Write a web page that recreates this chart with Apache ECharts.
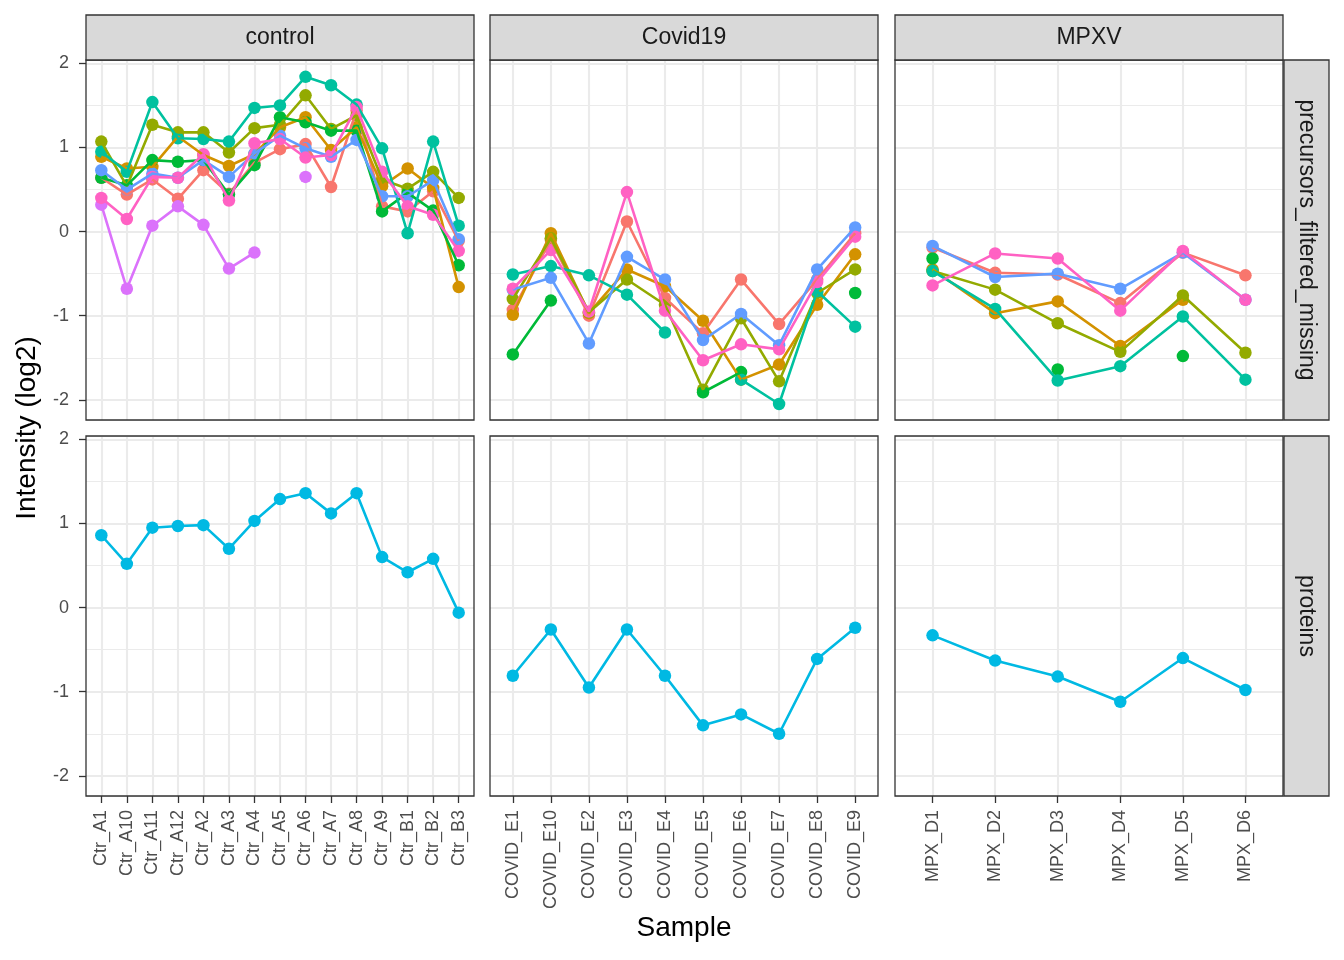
<!DOCTYPE html>
<html>
<head>
<meta charset="utf-8">
<script src="https://cdn.jsdelivr.net/npm/echarts@6/dist/echarts.min.js"></script>
<style>
  html, body { margin: 0; padding: 0; background: #fff; }
  #chart { width: 1344px; height: 960px; }
</style>
</head>
<body>
<div id="chart"></div>
<script>
// samples per condition (x categories)
const ctrSamples = ['Ctr_A1', 'Ctr_A10', 'Ctr_A11', 'Ctr_A12', 'Ctr_A2', 'Ctr_A3', 'Ctr_A4', 'Ctr_A5',
  'Ctr_A6', 'Ctr_A7', 'Ctr_A8', 'Ctr_A9', 'Ctr_B1', 'Ctr_B2', 'Ctr_B3'];
const covidSamples = ['COVID_E1', 'COVID_E10', 'COVID_E2', 'COVID_E3', 'COVID_E4', 'COVID_E5',
  'COVID_E6', 'COVID_E7', 'COVID_E8', 'COVID_E9'];
const mpxSamples = ['MPX_D1', 'MPX_D2', 'MPX_D3', 'MPX_D4', 'MPX_D5', 'MPX_D6'];

const conditions = ['control', 'Covid19', 'MPXV'];
const levels = ['precursors_filtered_missing', 'proteins'];
const yTicks = [-2, -1, 0, 1, 2];

// one colour per feature (ggplot hue palette), proteins use the 6th hue
const precursorColors = ['#F8766D', '#D39200', '#93AA00', '#00BA38', '#00C19F', '#619CFF', '#DB72FB', '#FF61C3'];
const proteinColor = '#00B9E3';

// precursor intensities, one row per precursor (same order as the colours)
const ctrPrecursors = [
  [0.64, 0.44, 0.62, 0.39, 0.73, 0.45, 0.82, 0.98, 1.04, 0.53, 1.44, 0.30, 0.24, 0.48, -0.11],
  [0.89, 0.75, 0.77, 1.13, 0.91, 0.78, 0.92, 1.24, 1.36, 0.97, 1.24, 0.54, 0.75, 0.52, -0.66],
  [1.07, 0.54, 1.27, 1.18, 1.18, 0.94, 1.23, 1.27, 1.62, 1.22, 1.38, 0.62, 0.51, 0.71, 0.40],
  [0.64, 0.55, 0.85, 0.83, 0.85, 0.44, 0.79, 1.36, 1.30, 1.20, 1.20, 0.24, 0.46, 0.25, -0.40],
  [0.95, 0.71, 1.54, 1.11, 1.10, 1.07, 1.47, 1.50, 1.84, 1.74, 1.51, 0.99, -0.02, 1.07, 0.07],
  [0.73, 0.50, 0.69, 0.64, 0.85, 0.65, 0.93, 1.14, 0.99, 0.89, 1.09, 0.42, 0.42, 0.61, -0.09],
  [0.32, -0.68, 0.07, 0.30, 0.08, -0.44, -0.25, null, 0.65, null, null, null, null, null, null],
  [0.40, 0.15, 0.65, 0.64, 0.92, 0.37, 1.05, 1.10, 0.88, 0.91, 1.48, 0.71, 0.30, 0.20, -0.23]
];
const covidPrecursors = [
  [-0.93, -0.10, -1.00, 0.12, -0.79, -1.21, -0.57, -1.10, -0.57, -0.02],
  [-0.99, -0.02, -0.97, -0.45, -0.65, -1.06, -1.76, -1.58, -0.87, -0.27],
  [-0.80, -0.08, -0.96, -0.57, -0.87, -1.88, -1.03, -1.78, -0.73, -0.45],
  [-1.46, -0.82, null, null, null, -1.91, -1.67, null, null, -0.73],
  [-0.51, -0.41, -0.52, -0.75, -1.20, null, -1.76, -2.05, -0.71, -1.13],
  [-0.69, -0.55, -1.33, -0.30, -0.57, -1.29, -0.98, -1.35, -0.45, 0.05],
  [null, null, null, null, null, null, null, null, null, null],
  [-0.68, -0.22, -0.95, 0.47, -0.94, -1.53, -1.34, -1.40, -0.60, -0.06]
];
const mpxPrecursors = [
  [-0.19, -0.49, -0.51, -0.85, -0.25, -0.52],
  [-0.45, -0.97, -0.83, -1.36, -0.81, null],
  [-0.47, -0.69, -1.09, -1.43, -0.76, -1.44],
  [-0.32, null, -1.64, null, -1.48, null],
  [-0.47, -0.92, -1.77, -1.60, -1.01, -1.76],
  [-0.17, -0.54, -0.50, -0.68, -0.25, -0.81],
  [null, null, null, null, null, null],
  [-0.64, -0.26, -0.32, -0.94, -0.23, -0.81]
];

// protein intensities
const ctrProteins = [0.86, 0.52, 0.95, 0.97, 0.98, 0.70, 1.03, 1.29, 1.36, 1.12, 1.36, 0.60, 0.42, 0.58, -0.06];
const covidProteins = [-0.81, -0.26, -0.95, -0.26, -0.81, -1.40, -1.27, -1.50, -0.61, -0.24];
const mpxProteins = [-0.33, -0.63, -0.82, -1.12, -0.60, -0.98];

const FONT = 'Liberation Sans, Arial, Helvetica, sans-serif';
const colLeft = [86, 490, 895];
const rowTop = [60, 436];
const panelW = 388, panelH = 360;
const yMin = -2.24, yMax = 2.04;

const sampleSets = [ctrSamples, covidSamples, mpxSamples];
const precursorSets = [ctrPrecursors, covidPrecursors, mpxPrecursors];
const proteinSets = [ctrProteins, covidProteins, mpxProteins];

const grid = [], xAxis = [], yAxis = [], series = [], graphic = [];

for (let r = 0; r < 2; r++) {
  for (let c = 0; c < 3; c++) {
    const g = r * 3 + c;
    const cats = sampleSets[c];
    const n = cats.length;
    const idx = cats.map((_, i) => i);

    grid.push({ left: colLeft[c], top: rowTop[r], width: panelW, height: panelH });

    xAxis.push({
      gridIndex: g, type: 'value', min: -0.6, max: n - 0.4, splitNumber: n,
      axisLine: { show: false, onZero: false },
      axisTick: { show: r === 1, customValues: idx, length: 7, lineStyle: { color: '#333', width: 1.3 } },
      axisLabel: {
        show: r === 1, customValues: idx, rotate: 90, margin: 14,
        formatter: v => cats[Math.round(v)] || '',
        color: '#4D4D4D', fontSize: 18, fontFamily: FONT
      },
      splitLine: { show: true, lineStyle: { color: '#EBEBEB', width: 2.1 } }
    });

    // major grid + labels
    yAxis.push({
      gridIndex: g, type: 'value', min: yMin, max: yMax, splitNumber: 4,
      axisLine: { show: false, onZero: false },
      axisTick: { show: c === 0, customValues: yTicks, length: 7, lineStyle: { color: '#333', width: 1.3 } },
      axisLabel: {
        show: c === 0, customValues: yTicks, margin: 17,
        formatter: v => String(Math.round(v)),
        color: '#4D4D4D', fontSize: 18, fontFamily: FONT
      },
      splitLine: { show: true, lineStyle: { color: '#EBEBEB', width: 2.1 } }
    });
    // minor grid
    yAxis.push({
      gridIndex: g, type: 'value', min: yMin, max: yMax, splitNumber: 8,
      axisLine: { show: false, onZero: false }, axisTick: { show: false }, axisLabel: { show: false },
      splitLine: { show: true, lineStyle: { color: '#EBEBEB', width: 1.1 } }
    });

    const rows = r === 0 ? precursorSets[c] : [proteinSets[c]];
    const colors = r === 0 ? precursorColors : [proteinColor];

    // lines first, then points on top (like geom_line + geom_point)
    rows.forEach((vals, k) => {
      series.push({
        type: 'line', xAxisIndex: g, yAxisIndex: 2 * g,
        data: vals.map((v, i) => [i, v]),
        showSymbol: false, connectNulls: false, silent: true,
        lineStyle: { color: colors[k], width: 2.6 }
      });
    });
    rows.forEach((vals, k) => {
      series.push({
        type: 'scatter', xAxisIndex: g, yAxisIndex: 2 * g,
        data: vals.map((v, i) => [i, v]).filter(d => d[1] !== null),
        symbolSize: 12.5, silent: true,
        itemStyle: { color: colors[k], opacity: 1 }
      });
    });

    // panel border
    graphic.push({
      type: 'rect', z: 100, silent: true,
      shape: { x: colLeft[c], y: rowTop[r], width: panelW, height: panelH },
      style: { fill: 'none', stroke: '#333333', lineWidth: 1.3 }
    });
  }
}

// top strips
conditions.forEach((name, c) => {
  graphic.push({
    type: 'rect', z: 100, silent: true,
    shape: { x: colLeft[c], y: 15, width: panelW, height: 45 },
    style: { fill: '#D9D9D9', stroke: '#333333', lineWidth: 1.3 }
  });
  graphic.push({
    type: 'text', z: 101, silent: true, x: colLeft[c] + panelW / 2, y: 38,
    style: { text: name, fontSize: 23, fontFamily: FONT, fill: '#1A1A1A', textAlign: 'center', textVerticalAlign: 'middle' }
  });
});

// right strips
levels.forEach((name, r) => {
  graphic.push({
    type: 'rect', z: 100, silent: true,
    shape: { x: 1284, y: rowTop[r], width: 45, height: panelH },
    style: { fill: '#D9D9D9', stroke: '#333333', lineWidth: 1.3 }
  });
  graphic.push({
    type: 'text', z: 101, silent: true, x: 1306, y: rowTop[r] + panelH / 2, rotation: -Math.PI / 2,
    style: { text: name, fontSize: 23, fontFamily: FONT, fill: '#1A1A1A', textAlign: 'center', textVerticalAlign: 'middle' }
  });
});

// axis titles
graphic.push({
  type: 'text', silent: true, x: 27, y: 428, rotation: Math.PI / 2,
  style: { text: 'Intensity (log2)', fontSize: 28, fontFamily: FONT, fill: '#000', textAlign: 'center', textVerticalAlign: 'middle' }
});
graphic.push({
  type: 'text', silent: true, x: 684, y: 928,
  style: { text: 'Sample', fontSize: 28, fontFamily: FONT, fill: '#000', textAlign: 'center', textVerticalAlign: 'middle' }
});

const chart = echarts.init(document.getElementById('chart'));
chart.setOption({
  animation: false,
  backgroundColor: '#fff',
  grid, xAxis, yAxis, series, graphic
});
</script>
</body>
</html>
